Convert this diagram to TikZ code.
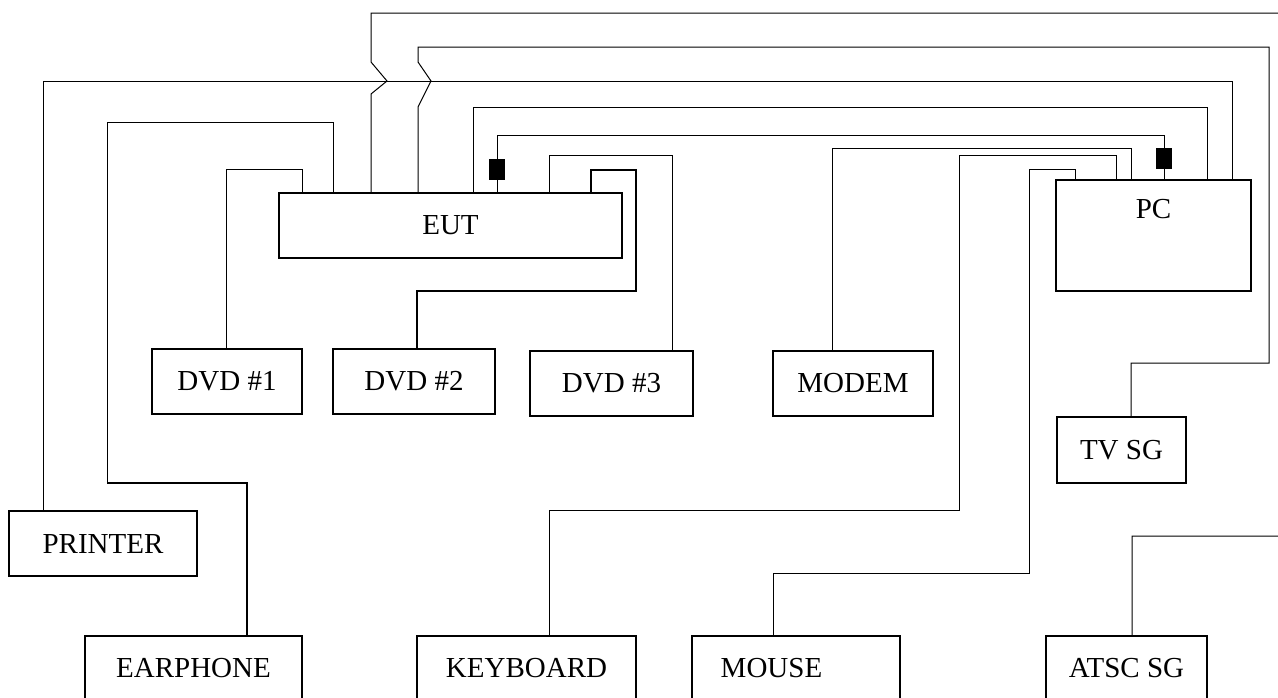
\documentclass[tikz,border=0pt]{standalone}
\usepackage{fontspec}
\setmainfont{Liberation Serif}
\begin{document}
\begin{tikzpicture}[x=1pt,y=-1pt,
  txt/.style={font=\fontsize{29}{34}\selectfont, inner sep=0pt},
  box/.style={draw, line width=1.5pt, inner sep=0pt, txt},
  wire/.style={line width=1pt},
  thickwire/.style={line width=1.5pt},
  ferrite/.style={fill=black, draw=none, minimum width=16pt, minimum height=21pt, inner sep=0pt}]
\path[use as bounding box, clip] (0,0) rectangle (1278,697);

% boxes
\node[box, minimum width=343pt, minimum height=65pt] (eut) at (450.5,225.5) {EUT};
\node[box, minimum width=195pt, minimum height=111pt] (pc) at (1153.5,235.5) {};
\node[txt] (pctxt) at (1153.5,209) {PC};
\node[box, minimum width=150pt, minimum height=65pt] (dvd1) at (227,381.5) {DVD \#1};
\node[box, minimum width=162pt, minimum height=65pt] (dvd2) at (414,381.5) {DVD \#2};
\node[box, minimum width=163pt, minimum height=65pt] (dvd3) at (611.5,383.5) {DVD \#3};
\node[box, minimum width=160pt, minimum height=65pt] (modem) at (853,383.5) {MODEM};
\node[box, minimum width=129pt, minimum height=66pt] (tvsg) at (1121.5,450) {TV SG};
\node[box, minimum width=188pt, minimum height=65pt] (printer) at (103,543.5) {PRINTER};
\node[box, minimum width=217pt, minimum height=64pt] (earphone) at (193.5,668) {EARPHONE};
\node[box, minimum width=219pt, minimum height=64pt] (keyboard) at (526.5,668) {KEYBOARD};
\node[box, minimum width=208pt, minimum height=64pt] (mouse) at (796,668) {};
\node[txt] (mousetxt) at (771.5,668) {MOUSE};
\node[box, minimum width=161pt, minimum height=64pt] (atsc) at (1126.5,668) {ATSC SG};

% ferrite cores
\node[ferrite] (f1) at (497,169.5) {};
\node[ferrite] (f2) at (1164,158.5) {};

% connectors
\draw[wire] (43,0 |- printer.north) -- (43,81) -- (1232,81) -- (1232,0 |- pc.north);
\draw[wire] (371,0 |- eut.north) -- (371,94) -- (387,81) -- (371,62) -- (371,13)
  -- (1300,13) -- (1300,536) -- (1132,536) -- (1132,0 |- atsc.north);
\draw[wire] (418,0 |- eut.north) -- (418,107) -- (431,81) -- (418,62) -- (418,47)
  -- (1269,47) -- (1269,363) -- (1131,363) -- (1131,0 |- tvsg.north);
\draw[thickwire] (247,0 |- earphone.north) -- (247,483) -- (107,483);
\draw[wire] (107,483) -- (107,122) -- (333,122) -- (333,0 |- eut.north);
\draw[wire] (226,0 |- dvd1.north) -- (226,169) -- (302,169) -- (302,0 |- eut.north);
\draw[thickwire] (417,0 |- dvd2.north) -- (417,291) -- (636,291) -- (636,170) -- (591,170) -- (591,0 |- eut.north);
\draw[wire] (672,0 |- dvd3.north) -- (672,155) -- (549,155) -- (549,0 |- eut.north);
\draw[wire] (497,0 |- eut.north) -- (f1.south);
\draw[wire] (f1.north) -- (497,135) -- (1164,135) -- (f2.north);
\draw[wire] (f2.south) -- (1164,0 |- pc.north);
\draw[wire] (473,0 |- eut.north) -- (473,107) -- (1207,107) -- (1207,0 |- pc.north);
\draw[wire] (832,0 |- modem.north) -- (832,148) -- (1131,148) -- (1131,0 |- pc.north);
\draw[wire] (549,0 |- keyboard.north) -- (549,510) -- (959,510) -- (959,155) -- (1116,155) -- (1116,0 |- pc.north);
\draw[wire] (773,0 |- mouse.north) -- (773,573) -- (1029,573) -- (1029,169) -- (1075,169) -- (1075,0 |- pc.north);
\end{tikzpicture}
\end{document}
